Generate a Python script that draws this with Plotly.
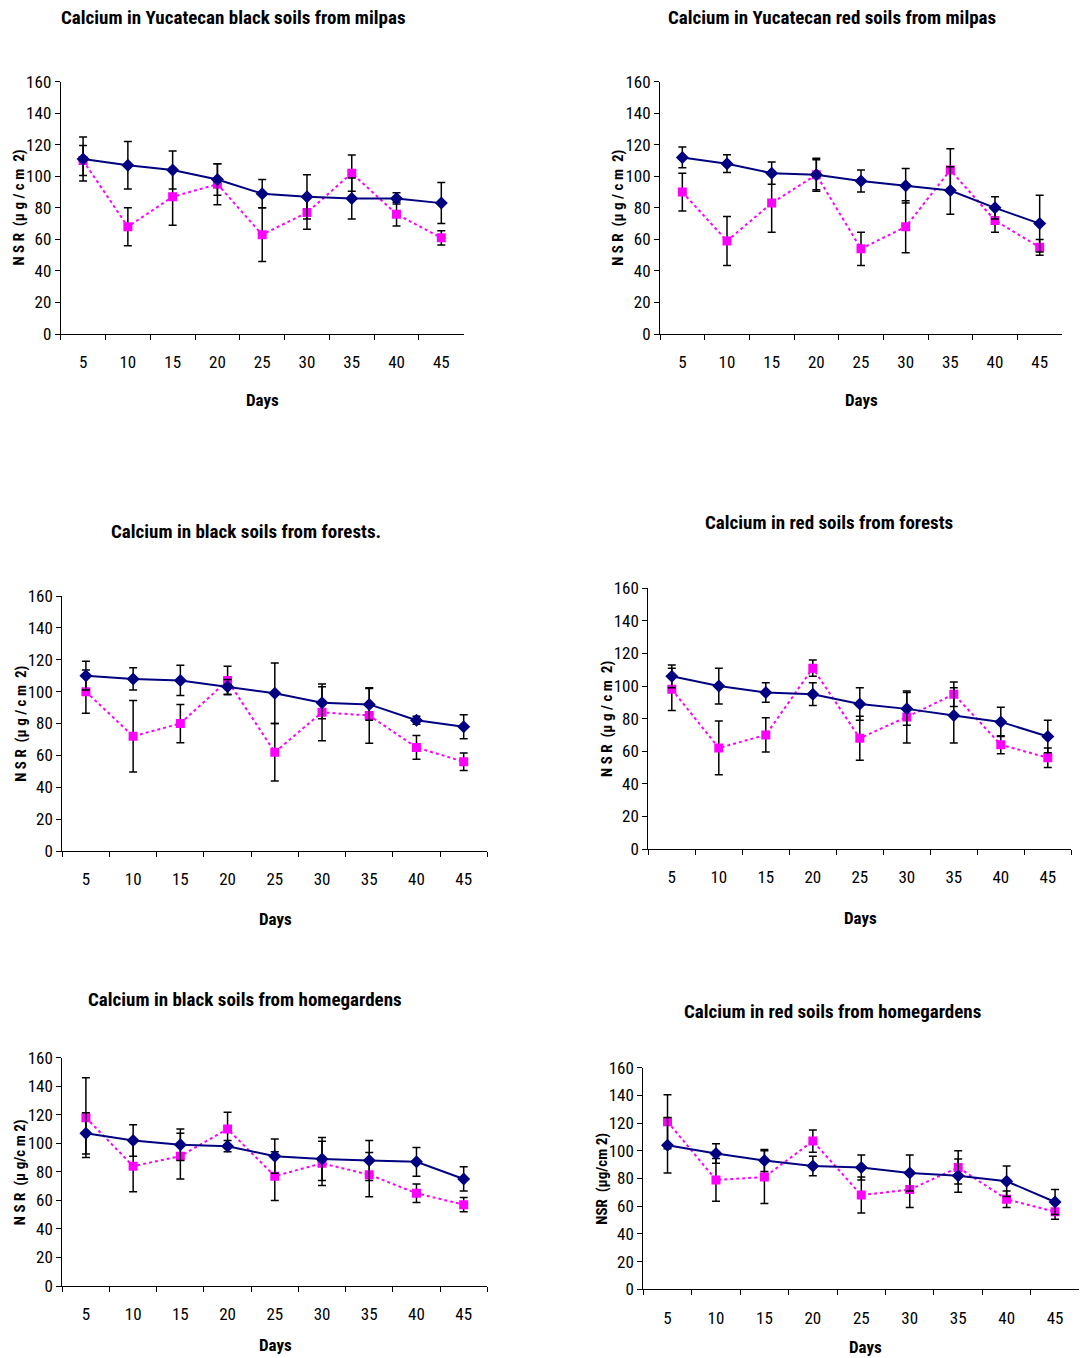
import plotly.graph_objects as go

W, H = 1080, 1358
days = ["5", "10", "15", "20", "25", "30", "35", "40", "45"]
y_ticks = [0, 20, 40, 60, 80, 100, 120, 140, 160]

titles = [
    "Calcium in Yucatecan black soils from milpas",
    "Calcium in Yucatecan red soils from milpas",
    "Calcium in black soils from forests.",
    "Calcium in red soils from forests",
    "Calcium in black soils from homegardens",
    "Calcium in red soils from homegardens",
]
y_labels = [
    "N S R  (µ g / c m  2)",
    "N S R  (µ g / c m  2)",
    "N S R  (µ g / c m  2)",
    "N S R  (µ g / c m  2)",
    "N S R  (µ g/c m 2)",
    "NSR  (µg/cm 2)",
]

# blue series (diamonds, solid)
blue_1 = [111, 107, 104, 98, 89, 87, 86, 86, 83]
blue_err_1 = [14, 15, 12, 10, 9, 14, 13, 3.5, 13]
pink_1 = [110, 68, 87, 95, 63, 77, 102, 76, 61]
pink_err_1 = [9.5, 12, 18, 13, 17, 10.5, 11.5, 7.5, 4.5]

blue_2 = [112, 108, 102, 101, 97, 94, 91, 80, 70]
blue_err_2 = [6.6, 5.6, 7, 9.5, 7, 11, 15, 7, 18]
pink_2 = [90, 59, 83, 101, 54, 68, 104, 72, 55]
pink_err_2 = [12, 15.5, 18.5, 10.5, 10.5, 16.5, 13.5, 7.5, 5]

blue_3 = [110, 108, 107, 103, 99, 93, 92, 82, 78]
blue_err_3 = [9, 7, 9.5, 4.6, 19, 10, 10, 2.5, 7.5]
pink_3 = [100, 72, 80, 107, 62, 87, 85, 65, 56]
pink_err_3 = [13.5, 22.5, 12, 9, 18, 17.8, 17.4, 7.5, 5.5]

blue_4 = [106, 100, 96, 95, 89, 86, 82, 78, 69]
blue_err_4 = [7, 11, 6, 7, 10, 10, 17, 9, 10]
pink_4 = [98, 62, 70, 111, 68, 81, 95, 64, 56]
pink_err_4 = [13, 16.5, 10.5, 5, 13.5, 16, 7.5, 5.5, 6]

blue_5 = [107, 102, 99, 98, 91, 89, 88, 87, 75]
blue_err_5 = [14.5, 11, 11, 4, 12, 15, 14, 10, 8.5]
pink_5 = [118, 84, 91, 110, 77, 86, 78, 65, 57]
pink_err_5 = [28, 18, 16, 11.7, 17, 15.5, 15.5, 6.5, 5]

blue_6 = [104, 98, 93, 89, 88, 84, 82, 78, 63]
blue_err_6 = [20, 7, 8, 7, 9, 13, 12, 11, 9]
pink_6 = [121, 79, 81, 107, 68, 72, 88, 65, 56]
pink_err_6 = [19.5, 15.5, 19, 8, 13, 13, 12, 6, 5.5]

blues = [blue_1, blue_2, blue_3, blue_4, blue_5, blue_6]
blue_errs = [blue_err_1, blue_err_2, blue_err_3, blue_err_4, blue_err_5, blue_err_6]
pinks = [pink_1, pink_2, pink_3, pink_4, pink_5, pink_6]
pink_errs = [pink_err_1, pink_err_2, pink_err_3, pink_err_4, pink_err_5, pink_err_6]

# pixel boxes of plot areas: (x0, x1, ytop, ybottom)
boxes = [
    (60.7, 463.7, 81.7, 334.0),
    (660.0, 1062.0, 81.7, 334.0),
    (62.3, 487.3, 596.0, 851.0),
    (648.3, 1071.3, 588.3, 849.0),
    (62.3, 487.3, 1057.7, 1286.0),
    (643.3, 1079.3, 1067.7, 1289.3),
]
title_pos = [(233, 18), (832, 18), (246, 532), (829, 522), (245, 999), (832, 1011)]
days_pos = [(262, 400), (861, 400), (275, 919), (860, 918), (275, 1345), (865, 1347)]

FONT = "Roboto Condensed, Liberation Sans Narrow, Arial Narrow, Liberation Sans, Arial, sans-serif"

fig = go.Figure()
annotations = []
layout_axes = {}

for i in range(6):
    n = i + 1
    xa = "x" if n == 1 else f"x{n}"
    ya = "y" if n == 1 else f"y{n}"
    x0, x1, yt, yb = boxes[i]
    fig.add_trace(go.Scatter(
        x=days, y=pinks[i], xaxis=xa, yaxis=ya, mode="lines+markers",
        line=dict(color="#FF00FF", width=2, dash="dot"),
        marker=dict(symbol="square", size=9, color="#FF00FF"),
        error_y=dict(type="data", array=pink_errs[i], visible=True,
                     color="black", thickness=1.5, width=4),
        showlegend=False,
    ))
    fig.add_trace(go.Scatter(
        x=days, y=blues[i], xaxis=xa, yaxis=ya, mode="lines+markers",
        line=dict(color="#000080", width=2),
        marker=dict(symbol="diamond", size=10, color="#000080"),
        error_y=dict(type="data", array=blue_errs[i], visible=True,
                     color="black", thickness=1.5, width=4),
        showlegend=False,
    ))
    xkey = "xaxis" if n == 1 else f"xaxis{n}"
    ykey = "yaxis" if n == 1 else f"yaxis{n}"
    layout_axes[xkey] = dict(
        domain=[x0 / W, x1 / W], anchor=ya, type="category",
        categoryorder="array", categoryarray=days, automargin=False,
        tickson="boundaries", ticks="outside", ticklen=5, tickcolor="black",
        showline=True, linecolor="black", linewidth=1, showgrid=False,
        zeroline=False, tickfont=dict(family=FONT, size=17, color="black"),
        ticklabelstandoff=13, range=[-0.5, 8.5], fixedrange=True,
    )
    layout_axes[ykey] = dict(
        domain=[1 - yb / H, 1 - yt / H], anchor=xa, range=[0, 160],
        tickvals=y_ticks, ticks="outside", ticklen=5, tickcolor="black",
        showline=True, linecolor="black", linewidth=1, showgrid=False,
        zeroline=False, tickfont=dict(family=FONT, size=17, color="black"),
        ticklabelstandoff=0, automargin=False,
    )
    tx, ty = title_pos[i]
    annotations.append(dict(
        text=f"<b>{titles[i]}</b>", x=tx / W, y=1 - ty / H, xref="paper",
        yref="paper", showarrow=False, xanchor="center", yanchor="middle",
        font=dict(family=FONT, size=19, color="black"),
    ))
    dx, dy = days_pos[i]
    annotations.append(dict(
        text="<b>Days</b>", x=dx / W, y=1 - dy / H, xref="paper",
        yref="paper", showarrow=False, xanchor="center", yanchor="middle",
        font=dict(family=FONT, size=17, color="black"),
    ))
    annotations.append(dict(
        text=f"<b>{y_labels[i]}</b>", x=(x0 - 42) / W, y=1 - (yt + yb) / 2 / H,
        xref="paper", yref="paper", showarrow=False, textangle=-90,
        xanchor="center", yanchor="middle",
        font=dict(family=FONT, size=15, color="black"),
    ))

fig.update_layout(
    template="none",
    width=W, height=H, margin=dict(l=0, r=0, t=0, b=0, pad=0),
    paper_bgcolor="white", plot_bgcolor="white",
    annotations=annotations, showlegend=False,
    **layout_axes,
)

fig.write_html("out.html")
